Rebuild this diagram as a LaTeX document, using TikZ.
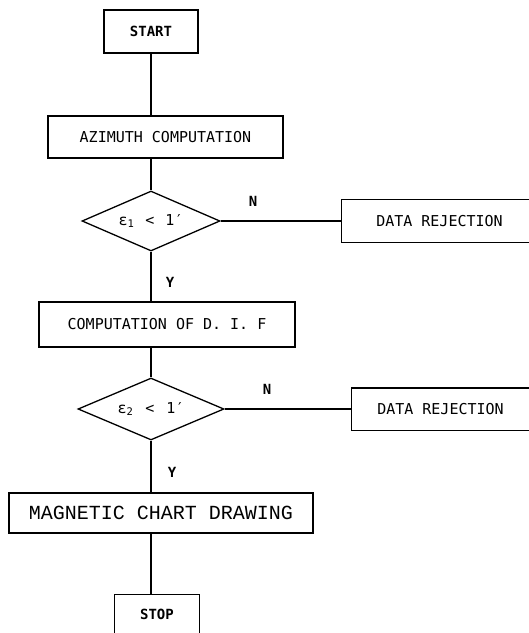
\documentclass[tikz,border=0pt]{standalone}
\usepackage{fontspec}
\setmainfont{DejaVu Sans Mono}
\newfontfamily\courierfont{Liberation Mono}
\usetikzlibrary{shapes.geometric}
\begin{document}
\begin{tikzpicture}[x=1pt,y=-1pt,line width=1.2pt,
  txt/.style={font=\fontsize{15}{18}\selectfont},
  boxnode/.style={draw,rectangle,inner sep=0pt,txt},
  opennode/.style={rectangle,inner sep=0pt,txt},
  decision/.style={draw,diamond,aspect=2.35,inner sep=0pt,line width=1.3pt,font=\fontsize{15}{18}\selectfont},
  lbl/.style={inner sep=0pt,font=\bfseries\fontsize{14}{16}\selectfont}]
\useasboundingbox (0,0) rectangle (529,633);
% nodes
\node[boxnode,minimum width=94,minimum height=43,font=\bfseries\fontsize{14}{18}\selectfont] (start) at (151,31.5) {START};
\node[boxnode,minimum width=235,minimum height=42] (az) at (165.5,137) {AZIMUTH COMPUTATION};
\node[decision,minimum width=138,minimum height=60] (d1) at (151,221) {ε\textsubscript{1}\hspace{11pt}<\hspace{11pt}1′};
\node[opennode,minimum width=187,minimum height=42] (dr1) at (435.5,221) {\hspace*{8pt}DATA REJECTION};
\node[boxnode,minimum width=256,minimum height=45] (comp) at (167,324.5) {COMPUTATION OF D. I. F};
\node[decision,minimum width=146,minimum height=62] (d2) at (151,409) {ε\textsubscript{2}\hspace{12pt}<\hspace{12pt}1′};
\node[opennode,minimum width=177,minimum height=41] (dr2) at (440.5,409) {DATA REJECTION};
\node[boxnode,minimum width=304,minimum height=40,font=\courierfont\fontsize{20}{22}\selectfont] (mag) at (161,513) {MAGNETIC CHART DRAWING};
\node[opennode,minimum width=84,minimum height=38,font=\bfseries\fontsize{14}{18}\selectfont] (stop) at (157,614) {STOP};
% labels
\node[lbl] (n1) at (253,201) {N};
\node[lbl] (n2) at (267,389) {N};
\node[lbl] (y1) at (170,282) {Y};
\node[lbl] (y2) at (172,472) {Y};
% open-sided boxes
\draw (dr1.north east) -- (dr1.north west) -- (dr1.south west) -- (dr1.south east);
\draw (dr2.north east) -- (dr2.north west) -- (dr2.south west) -- (dr2.south east);
\draw (stop.south west) -- (stop.north west) -- (stop.north east) -- (stop.south east);
% connectors
\draw (start.south) -- (start.south |- az.north);
\draw (az.south -| d1.north) -- (d1.north);
\draw (d1.south) -- (d1.south |- comp.north);
\draw (comp.south -| d2.north) -- (d2.north);
\draw (d2.south) -- (d2.south |- mag.north);
\draw (mag.south -| d2.south) -- (d2.south |- stop.north);
\draw (d1.east) -- (d1.east -| dr1.west);
\draw (d2.east) -- (d2.east -| dr2.west);
\end{tikzpicture}
\end{document}
